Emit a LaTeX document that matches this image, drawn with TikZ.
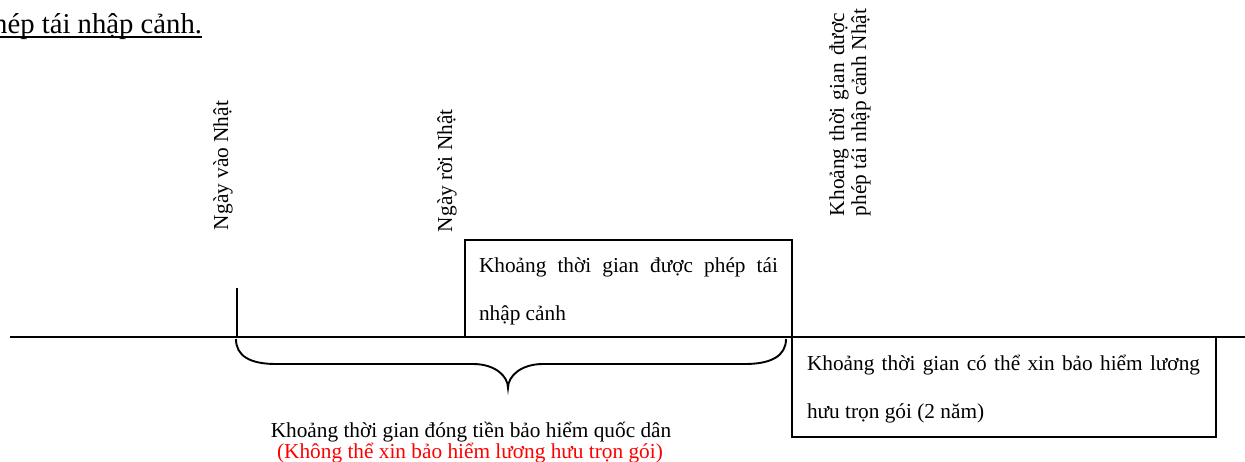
\documentclass[tikz,border=0pt]{standalone}
\usepackage{fontspec}
\setmainfont{Liberation Serif}
\begin{document}
\begin{tikzpicture}[x=1pt,y=-1pt,
  font=\fontsize{21.3}{25}\selectfont,
  line width=1.9pt,
  lbl/.style={inner sep=0pt, outer sep=0pt},
  vlbl/.style={lbl, rotate=90, anchor=base west},
  boxnode/.style={draw, inner sep=0pt, outer sep=0pt, anchor=north west},
  redtext/.style={text=red}]
\clip (0,0) rectangle (1245,461);

% title (cut off at the left, as in the reference)
\node[lbl, anchor=base east, font=\fontsize{28.7}{32}\selectfont] (title) at (202,33) {phép tái nhập cảnh.};
\draw[line width=1.6pt] ([yshift=-4pt]title.base west) -- ([yshift=-4pt]title.base east);

% time axis
\coordinate (axL) at (10,337);
\coordinate (axR) at (1245,337);
\draw (axL) -- (axR);

% tick at entry date
\coordinate (tickT) at (237,288);
\coordinate (tickB) at (237,337);
\draw (tickT) -- (tickB);

% boxes
\node[boxnode, minimum width=327pt, minimum height=97pt] (box1) at (465,240) {};
\node[boxnode, minimum width=424pt, minimum height=100pt] (box2) at (792,337) {};

\node[lbl, anchor=base west] (b1a) at (479,272) {\makebox[299pt][s]{Khoảng thời gian được phép tái}};
\node[lbl, anchor=base west] (b1b) at (479,320) {nhập cảnh};
\node[lbl, anchor=base west] (b2a) at (807,370) {\makebox[393pt][s]{Khoảng thời gian có thể xin bảo hiểm lương}};
\node[lbl, anchor=base west] (b2b) at (807,418) {hưu trọn gói (2 năm)};

% vertical labels
\node[vlbl] (entry) at (228,230) {Ngày vào Nhật};
\node[vlbl] (leave) at (452,232) {Ngày rời Nhật};
\node[vlbl] (reA) at (844,216) {\makebox[203pt][s]{Khoảng thời gian được}};
\node[vlbl] (reB) at (866,216) {phép tái nhập cảnh Nhật};

% brace
\coordinate (brL) at (236,339);
\coordinate (brR) at (786,339);
\coordinate (brTip) at (508,388);
\draw (brL) .. controls (236,356) and (250,364) .. (276,364) -- (473,364)
  .. controls (495,364) and (508,376) .. (brTip)
  .. controls (508,376) and (521,364) .. (543,364) -- (745,364)
  .. controls (771,364) and (786,356) .. (brR);

% bottom captions
\node[lbl, anchor=base] (cap1) at (471,437) {Khoảng thời gian đóng tiền bảo hiểm quốc dân};
\node[lbl, anchor=base, redtext] (cap2) at (470,458) {(Không thể xin bảo hiểm lương hưu trọn gói)};
\end{tikzpicture}
\end{document}
